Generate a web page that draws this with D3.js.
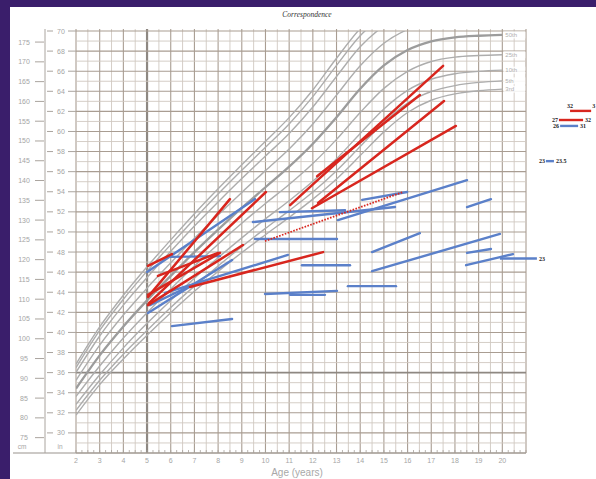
<!DOCTYPE html>
<html><head><meta charset="utf-8">
<script src="https://cdn.jsdelivr.net/npm/d3@7"></script>
<style>html,body{margin:0;padding:0;background:#3a1e6b;}svg{display:block;}</style>
</head><body>
<div id="chart"></div>
<script>
// ---------- DATA ----------
const ages = [2,3,4,5,6,7,8,9,10,11,12,13,14,15,16,17,18,19,20];
const p3  = [80.7,88.4,94.9,100.9,106.6,112.0,117.0,121.8,126.3,130.7,135.3,140.4,146.3,152.3,157.2,160.3,161.9,162.7,163.1];
const p5  = [81.9,89.5,96.1,102.1,107.9,113.3,118.4,123.3,127.9,132.4,137.1,142.5,148.6,154.7,159.6,162.5,164.0,164.8,165.2];
const p10 = [83.4,90.9,97.7,103.9,109.7,115.3,120.5,125.5,130.3,134.9,139.8,145.5,151.9,158.1,162.8,165.6,167.0,167.6,167.9];
const p25 = [85.4,93.1,100.2,106.6,112.6,118.4,123.9,129.2,134.2,139.0,144.3,150.4,157.2,163.3,167.6,170.1,171.2,171.6,171.8];
const p50 = [87.4,95.8,103.1,109.7,115.9,121.9,127.6,133.1,138.3,143.5,149.3,156.0,163.2,169.1,173.0,175.2,176.2,176.6,176.8];
const p75 = [89.5,98.4,106.0,112.8,119.2,125.4,131.3,137.0,142.5,148.0,154.3,161.6,169.0,174.7,178.2,180.2,181.2,181.6,181.8];
const p90 = [91.5,100.7,108.5,115.5,122.1,128.5,134.6,140.5,146.2,151.9,158.6,166.3,173.8,179.1,182.4,184.3,185.2,185.6,185.8];
const p95 = [92.7,102.1,110.0,117.1,123.8,130.3,136.6,142.6,148.4,154.3,161.2,169.1,176.6,181.7,184.9,186.7,187.6,188.0,188.2];
const p97 = [93.6,103.0,111.0,118.2,125.0,131.6,137.9,144.0,149.9,155.9,162.9,170.9,178.4,183.4,186.5,188.3,189.2,189.6,189.8];
const percentileNames = ["3rd","5th","10th","25th","50th","75th","90th","95th","97th"];
const percentileSeries = [p3,p5,p10,p25,p50,p75,p90,p95,p97];
const labelledPercentiles = ["3rd","5th","10th","25th","50th"];

// segments: [age0, cm0, age1, cm1]
const redSegments = [
  [5.04,118.4, 6.05,121.4],
  [5.04,110.6, 8.50,135.3],
  [5.08,109.0,10.02,137.1],
  [5.46,115.9, 8.00,121.7],
  [5.04,108.5, 9.05,123.7],
  [5.04,111.1, 8.08,121.7],
  [6.81,113.1,12.43,121.9],
  [12.18,141.1,16.52,161.6],
  [11.04,133.8,17.50,169.0],
  [12.22,134.3,17.54,160.1],
  [11.96,133.0,18.04,153.8]
];
const redDotted = [
  [9.98,124.7,15.81,137.1]
];
const blueSegments = [
  [5.00,116.9, 9.56,135.3],
  [5.04,106.5, 8.59,119.9],
  [6.05,103.2, 8.59,105.0],
  [5.76,111.6,10.95,121.2],
  [6.01,120.7, 8.08,120.9],
  [5.12,108.5, 7.07,114.1],
  [9.98,111.3,13.02,112.1],
  [11.04,111.1,12.51,111.1],
  [9.56,125.2,13.02,125.2],
  [11.54,118.6,13.57,118.6],
  [13.48,113.3,15.51,113.3],
  [14.50,121.9,16.52,126.7],
  [14.50,117.1,19.90,126.5],
  [18.51,133.3,19.52,135.3],
  [18.51,121.7,19.52,122.7],
  [18.47,118.6,20.45,121.4],
  [13.06,130.0,18.51,140.1],
  [9.47,129.5,15.47,133.3],
  [10.61,132.0,13.36,132.5],
  [14.08,135.1,15.98,137.1]
];
// side annotations: age range, cm, colour, labels
const annotations = [
  {a0:22.86, a1:23.75, cm:157.6, color:"red",  left:"32", right:"3", above:true},
  {a0:22.39, a1:23.41, cm:155.3, color:"red",  left:"27", right:"32"},
  {a0:22.44, a1:23.20, cm:153.8, color:"blue", left:"26", right:"31"},
  {a0:21.84, a1:22.18, cm:144.9, color:"blue", left:"23", right:"23.5"},
  {a0:19.90, a1:21.46, cm:120.3, color:"blue", left:"",   right:"23"}
];
const cmTicks = [75,80,85,90,95,100,105,110,115,120,125,130,135,140,145,150,155,160,165,170,175];
const inchTicks = [30,32,34,36,38,40,42,44,46,48,50,52,54,56,58,60,62,64,66,68,70];
const ageTicks = [2,3,4,5,6,7,8,9,10,11,12,13,14,15,16,17,18,19,20];
const titleText = "Correspondence";
const xTitle = "Age (years)";

// ---------- DRAW ----------
const W = 596, H = 479;
const svg = d3.select("#chart").append("svg").attr("width", W).attr("height", H);
svg.append("rect").attr("width", W).attr("height", H).attr("fill", "#3a1e6b");
svg.append("rect").attr("x", 10).attr("y", 7).attr("width", W - 10).attr("height", H - 7).attr("fill", "#ffffff");

const x = d3.scaleLinear().domain([2, 21]).range([76, 526]);
const yIn = d3.scaleLinear().domain([28, 70]).range([453, 31]);
const yCm = d3.scaleLinear().domain([28 * 2.54, 70 * 2.54]).range([453, 31]);

const colors = {red: "#d8261e", blue: "#5b80c9"};

// grid
const grid = svg.append("g");
const halfYears = d3.range(2, 21.001, 0.5);
grid.selectAll("line.v").data(halfYears).join("line")
  .attr("x1", d => x(d)).attr("x2", d => x(d))
  .attr("y1", yIn(70) - 2).attr("y2", yIn(28))
  .attr("stroke", d => d === 5 ? "#8e8882" : (Number.isInteger(d) ? "#a99d92" : "#d0c8c1"))
  .attr("stroke-width", d => d === 5 ? 2.2 : (Number.isInteger(d) ? 1.1 : 0.9));
const inches = d3.range(28, 70.001, 1);
grid.selectAll("line.h").data(inches).join("line")
  .attr("x1", x(2)).attr("x2", x(21))
  .attr("y1", d => yIn(d)).attr("y2", d => yIn(d))
  .attr("stroke", d => d === 36 ? "#8e8882" : (d % 2 === 0 ? "#a99d92" : "#d0c8c1"))
  .attr("stroke-width", d => d === 36 ? 1.8 : (d % 2 === 0 ? 1.1 : 0.9));

// bottom axis
svg.append("line").attr("x1", 13).attr("x2", x(21)).attr("y1", yIn(28)).attr("y2", yIn(28))
  .attr("stroke", "#9a948e").attr("stroke-width", 1.2);
const quarter = d3.range(2, 21.001, 0.25);
svg.selectAll("line.qt").data(quarter).join("line")
  .attr("x1", d => x(d)).attr("x2", d => x(d))
  .attr("y1", yIn(28)).attr("y2", yIn(28) - 3)
  .attr("stroke", "#a8a29c").attr("stroke-width", 0.8);
svg.selectAll("text.age").data(ageTicks).join("text")
  .attr("x", d => x(d)).attr("y", 463)
  .attr("text-anchor", "middle").attr("font-family", "Liberation Sans, Arial, sans-serif")
  .attr("font-size", 7).attr("fill", "#a5a5a5").text(d => d);
svg.append("text").attr("x", 297).attr("y", 476).attr("text-anchor", "middle")
  .attr("font-family", "Liberation Sans, Arial, sans-serif").attr("font-size", 10)
  .attr("fill", "#a8a8a8").text(xTitle);

// left axes
svg.append("line").attr("x1", 45).attr("x2", 45).attr("y1", yIn(70) - 2).attr("y2", yIn(28))
  .attr("stroke", "#aaa49e").attr("stroke-width", 1);
svg.selectAll("line.cmt").data(cmTicks).join("line")
  .attr("x1", 35).attr("x2", 44).attr("y1", d => yCm(d)).attr("y2", d => yCm(d))
  .attr("stroke", "#aaa49e").attr("stroke-width", 1);
svg.selectAll("text.cm").data(cmTicks).join("text")
  .attr("x", 24).attr("y", d => yCm(d) + 2.5).attr("text-anchor", "middle")
  .attr("font-family", "Liberation Sans, Arial, sans-serif").attr("font-size", 7)
  .attr("fill", "#a5a5a5").text(d => d);
svg.append("text").attr("x", 22).attr("y", 449).attr("text-anchor", "middle")
  .attr("font-family", "Liberation Sans, Arial, sans-serif").attr("font-size", 6.5)
  .attr("fill", "#a5a5a5").text("cm");
svg.selectAll("line.int1").data(inchTicks).join("line")
  .attr("x1", 47).attr("x2", 53).attr("y1", d => yIn(d)).attr("y2", d => yIn(d))
  .attr("stroke", "#aaa49e").attr("stroke-width", 1);
svg.selectAll("line.int2").data(inchTicks).join("line")
  .attr("x1", 68).attr("x2", 76).attr("y1", d => yIn(d)).attr("y2", d => yIn(d))
  .attr("stroke", "#aaa49e").attr("stroke-width", 1);
svg.selectAll("text.inch").data(inchTicks).join("text")
  .attr("x", 61).attr("y", d => yIn(d) + 2.5).attr("text-anchor", "middle")
  .attr("font-family", "Liberation Sans, Arial, sans-serif").attr("font-size", 7)
  .attr("fill", "#a5a5a5").text(d => d);
svg.append("text").attr("x", 60).attr("y", 449).attr("text-anchor", "middle")
  .attr("font-family", "Liberation Sans, Arial, sans-serif").attr("font-size", 6.5)
  .attr("fill", "#a5a5a5").text("in");

// title
svg.append("text").attr("x", 307).attr("y", 17).attr("text-anchor", "middle")
  .attr("font-family", "Liberation Serif, Times New Roman, serif").attr("font-style", "italic")
  .attr("font-size", 7.5).attr("fill", "#333").text(titleText);

// clip for curves
svg.append("clipPath").attr("id", "plotclip").append("rect")
  .attr("x", x(2)).attr("y", yIn(70)).attr("width", x(21) - x(2)).attr("height", yIn(28) - yIn(70));

const line = d3.line().x((d, i) => x(ages[i])).y(d => yCm(d)).curve(d3.curveMonotoneX);
svg.append("g").attr("clip-path", "url(#plotclip)")
  .selectAll("path").data(percentileSeries).join("path")
  .attr("d", d => line(d)).attr("fill", "none")
  .attr("stroke", (d, i) => percentileNames[i] === "50th" ? "#9c9c9c" : "#adadad")
  .attr("stroke-width", (d, i) => percentileNames[i] === "50th" ? 2.3 : 1.4);

// percentile labels
const lab = svg.append("g");
percentileNames.forEach((n, i) => {
  if (!labelledPercentiles.includes(n)) return;
  const yy = yCm(percentileSeries[i][ages.length - 1]);
  lab.append("rect").attr("x", x(20) + 1).attr("y", yy - 3.5).attr("width", 22).attr("height", 7)
    .attr("fill", "#fff").attr("opacity", 0.85);
  lab.append("text").attr("x", x(20) + 3).attr("y", yy + 2.2)
    .attr("font-family", "Liberation Sans, Arial, sans-serif").attr("font-size", 6)
    .attr("fill", "#b0b0b0").text(n);
});

// segments
const seg = svg.append("g").attr("stroke-linecap", "round");
seg.selectAll("line.blue").data(blueSegments).join("line")
  .attr("x1", d => x(d[0])).attr("y1", d => yCm(d[1]))
  .attr("x2", d => x(d[2])).attr("y2", d => yCm(d[3]))
  .attr("stroke", colors.blue).attr("stroke-width", 2.4);
seg.selectAll("line.red").data(redSegments).join("line")
  .attr("x1", d => x(d[0])).attr("y1", d => yCm(d[1]))
  .attr("x2", d => x(d[2])).attr("y2", d => yCm(d[3]))
  .attr("stroke", colors.red).attr("stroke-width", 2.5);
seg.selectAll("line.dot").data(redDotted).join("line")
  .attr("x1", d => x(d[0])).attr("y1", d => yCm(d[1]))
  .attr("x2", d => x(d[2])).attr("y2", d => yCm(d[3]))
  .attr("stroke", colors.red).attr("stroke-width", 1.8).attr("stroke-dasharray", "1.6,1.4")
  .attr("stroke-linecap", "butt");

// annotations
const ann = svg.append("g");
annotations.forEach(a => {
  const yy = yCm(a.cm);
  ann.append("line").attr("x1", x(a.a0)).attr("x2", x(a.a1)).attr("y1", yy).attr("y2", yy)
    .attr("stroke", colors[a.color]).attr("stroke-width", 2.4);
  const tf = t => t.attr("font-family", "Liberation Serif, Times New Roman, serif")
    .attr("font-weight", "bold").attr("font-size", 6).attr("fill", "#222");
  if (a.left) {
    if (a.above) tf(ann.append("text").attr("x", x(a.a0) + 3).attr("y", yy - 3).attr("text-anchor", "end").text(a.left));
    else tf(ann.append("text").attr("x", x(a.a0) - 1).attr("y", yy + 2.2).attr("text-anchor", "end").text(a.left));
  }
  if (a.right) {
    if (a.above) tf(ann.append("text").attr("x", x(a.a1) + 1).attr("y", yy - 3).text(a.right));
    else tf(ann.append("text").attr("x", x(a.a1) + 2).attr("y", yy + 2.2).text(a.right));
  }
});
</script>
</body></html>
